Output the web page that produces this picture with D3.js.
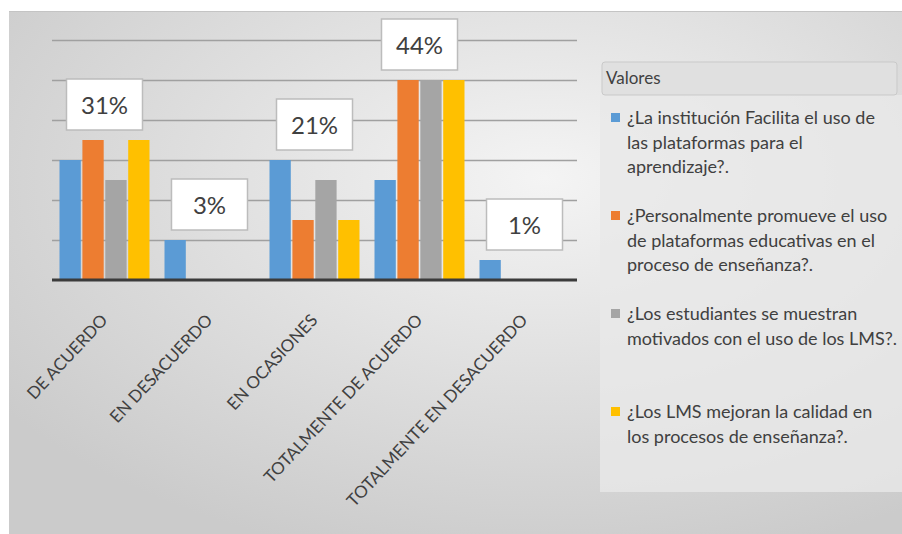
<!DOCTYPE html>
<html>
<head>
<meta charset="utf-8">
<script src="https://cdn.jsdelivr.net/npm/d3@7"></script>
<style>
  body { margin: 0; background: #fff; }
  svg text { font-family: Lato, "Open Sans", sans-serif; fill: #404040; }
</style>
</head>
<body>
<svg id="chart" width="902" height="534"></svg>
<script>
var categories = ["DE ACUERDO", "EN DESACUERDO", "EN OCASIONES", "TOTALMENTE DE ACUERDO", "TOTALMENTE EN DESACUERDO"];
var seriesNames = [
    "¿La institución Facilita el uso de las plataformas para el aprendizaje?.",
    "¿Personalmente promueve el uso de plataformas educativas en el proceso de enseñanza?.",
    "¿Los estudiantes se muestran motivados con el uso de los LMS?.",
    "¿Los LMS mejoran la calidad en los procesos de enseñanza?."
];
var legendLines = [
    ["¿La institución Facilita el uso de", "las plataformas para el", "aprendizaje?."],
    ["¿Personalmente promueve el uso", "de plataformas educativas en el", "proceso de enseñanza?."],
    ["¿Los estudiantes se muestran", "motivados con el uso de los LMS?."],
    ["¿Los LMS mejoran la calidad en", "los procesos de enseñanza?."]
];
var colors = ["#5b9bd5", "#ed7d31", "#a5a5a5", "#ffc000"];
// one row per category, one value per series
var values = [
    [6, 7, 5, 7],
    [2, 0, 0, 0],
    [6, 3, 5, 3],
    [5, 10, 10, 10],
    [1, 0, 0, 0]
];
var yTicks = [0, 2, 4, 6, 8, 10, 12];

var svg = d3.select("#chart");
var defs = svg.append("defs");
var grad = defs.append("radialGradient").attr("id", "bg")
    .attr("cx", "60%").attr("cy", "32%").attr("r", "75%");
grad.append("stop").attr("offset", "0%").attr("stop-color", "#f4f4f4");
grad.append("stop").attr("offset", "100%").attr("stop-color", "#cbcbcb");

svg.append("rect").attr("x", 9).attr("y", 11).attr("width", 893).attr("height", 523)
    .attr("fill", "url(#bg)");
svg.append("line").attr("x1", 9).attr("x2", 902).attr("y1", 11.5).attr("y2", 11.5)
    .attr("stroke", "#c4c4c4").attr("stroke-width", 1);

var x0 = d3.scaleBand().domain(categories).range([52, 577])
    .paddingInner(0.1429).paddingOuter(0.0714);
var x1 = d3.scaleBand().domain(d3.range(seriesNames.length)).range([0, x0.bandwidth()])
    .paddingInner(0.07);
var y = d3.scaleLinear().domain([0, 12]).range([280, 40]);

var g = svg.append("g");

g.selectAll(".grid").data(yTicks.slice(1)).enter().append("line")
    .attr("class", "grid")
    .attr("x1", 52).attr("x2", 577)
    .attr("y1", function(d) { return y(d) + 0.5; })
    .attr("y2", function(d) { return y(d) + 0.5; })
    .attr("stroke", "#a0a0a0").attr("stroke-width", 1.3);

var groups = g.selectAll(".cat").data(values).enter().append("g")
    .attr("class", "cat")
    .attr("transform", function(d, i) { return "translate(" + x0(categories[i]) + ",0)"; });

groups.selectAll("rect").data(function(d) { return d; }).enter().append("rect")
    .attr("x", function(d, i) { return x1(i); })
    .attr("width", x1.bandwidth())
    .attr("y", function(d) { return y(d); })
    .attr("height", function(d) { return y(0) - y(d); })
    .attr("fill", function(d, i) { return colors[i]; });

g.append("line").attr("x1", 52).attr("x2", 577).attr("y1", y(0)).attr("y2", y(0))
    .attr("stroke", "#3b3b3b").attr("stroke-width", 3);

// percentage boxes
var total = d3.sum(values, function(r) { return d3.sum(r); });
var labels = g.selectAll(".lbl").data(values).enter().append("g")
    .attr("class", "lbl")
    .attr("transform", function(d, i) {
        var cx = x0(categories[i]) + x0.bandwidth() / 2;
        var top = y(d3.max(d)) - 10;
        return "translate(" + cx + "," + top + ")";
    });
labels.append("rect").attr("x", -38).attr("y", -51).attr("width", 76).attr("height", 51)
    .attr("fill", "#fff").attr("stroke", "#bcbcbc").attr("stroke-width", 1.5);
labels.append("text").attr("text-anchor", "middle").attr("y", -16)
    .style("font-size", "24px")
    .text(function(d) { return Math.round(d3.sum(d) / total * 100) + "%"; });

// category labels
g.selectAll(".xl").data(categories).enter().append("text")
    .attr("class", "xl")
    .attr("text-anchor", "end")
    .attr("transform", function(d) {
        return "translate(" + (x0(d) + x0.bandwidth() / 2 + 4) + "," + 321 + ") rotate(-47)";
    })
    .style("font-size", "17px")
    .text(function(d) { return d; });

// legend
var lg = svg.append("g");
lg.append("rect").attr("x", 600).attr("y", 95).attr("width", 302).attr("height", 397)
    .attr("fill", "#e8e8e8").attr("opacity", 0.8);
lg.append("rect").attr("x", 602).attr("y", 62).attr("width", 295).attr("height", 33)
    .attr("rx", 3).attr("fill", "#e0e0e0").attr("stroke", "#c9c9c9");
lg.append("text").attr("x", 606).attr("y", 84).style("font-size", "17px").text("Valores");

var items = lg.selectAll(".li").data(legendLines).enter().append("g")
    .attr("class", "li")
    .attr("transform", function(d, i) { return "translate(611," + (118 + i * 98) + ")"; });
items.append("rect").attr("x", 0).attr("y", -5).attr("width", 9).attr("height", 9)
    .attr("fill", function(d, i) { return colors[i]; });
items.selectAll("text").data(function(d) { return d; }).enter().append("text")
    .attr("x", 16)
    .attr("y", function(d, j) { return j * 24.5 + 6; })
    .style("font-size", "18px")
    .text(function(d) { return d; });
</script>
</body>
</html>
